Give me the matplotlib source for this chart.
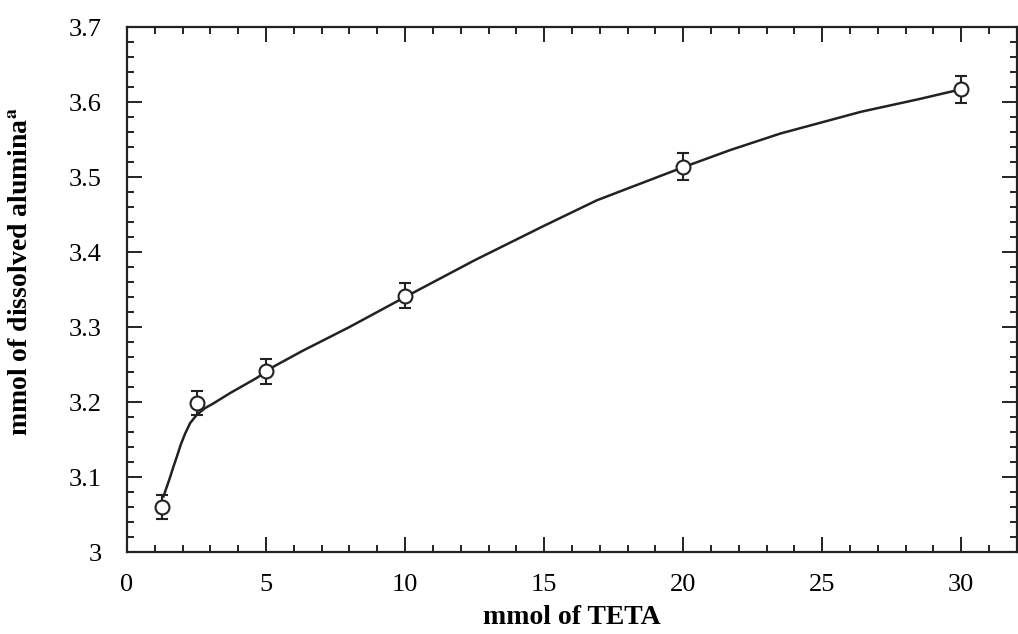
import numpy as np
import matplotlib
matplotlib.use("Agg")
import matplotlib.pyplot as plt
from matplotlib.ticker import MultipleLocator

plt.rcParams["font.family"] = ["Liberation Serif", "DejaVu Serif"]
plt.rcParams["mathtext.fontset"] = "stix"

# measured points
teta = [1.25, 2.5, 5, 10, 20, 30]
alumina = [3.060, 3.199, 3.241, 3.342, 3.514, 3.617]
err = [0.016, 0.016, 0.017, 0.017, 0.018, 0.018]

# smooth curve
curve_x = [1.31, 1.43, 1.55, 1.67, 1.79, 1.93, 2.09, 2.27, 2.51, 2.81, 3.10, 3.71, 4.66,
           5.26, 6.3, 8.0, 10.0, 12.5, 15.0, 16.9, 20.0, 21.7, 23.5, 26.4, 28.5, 30.0]
curve_y = [3.074, 3.087, 3.100, 3.114, 3.127, 3.143, 3.158, 3.172, 3.183, 3.192, 3.198,
           3.212, 3.232, 3.247, 3.268, 3.300, 3.340, 3.389, 3.435, 3.469, 3.513, 3.536,
           3.558, 3.587, 3.604, 3.617]

fig = plt.figure(figsize=(10.18, 6.34), dpi=100)
ax = fig.add_axes([0.1248, 0.1293, 0.874, 0.8281])

ax.plot(curve_x, curve_y, color="#222222", lw=1.8, zorder=2)
ax.errorbar(teta, alumina, yerr=err, fmt="o", ms=10, mfc="white", mec="#222222",
            mew=1.5, ecolor="#222222", elinewidth=1.5, capsize=4, capthick=1.5, zorder=3)

ax.set_xlim(0, 32)
ax.set_ylim(3.0, 3.7)
ax.xaxis.set_major_locator(MultipleLocator(5))
ax.xaxis.set_minor_locator(MultipleLocator(1))
ax.yaxis.set_minor_locator(MultipleLocator(0.02))
ax.set_yticks([3.0, 3.1, 3.2, 3.3, 3.4, 3.5, 3.6, 3.7])
ax.set_yticklabels(["3", "3.1", "3.2", "3.3", "3.4", "3.5", "3.6", "3.7"])

ax.tick_params(which="both", direction="in", top=True, right=True, width=1.4, color="#222222")
ax.tick_params(which="major", length=11, labelsize=19)
ax.tick_params(which="minor", length=5)
ax.tick_params(axis="y", pad=18)
ax.tick_params(axis="x", pad=16)
for s in ax.spines.values():
    s.set_linewidth(1.6)
    s.set_color("#222222")

ax.set_xlabel("mmol of TETA", fontsize=20, fontweight="bold")
ax.set_ylabel("mmol of dissolved alumina$^{\\mathbf{a}}$", fontsize=20, fontweight="bold")
ax.yaxis.set_label_coords(-0.106, 0.535)
ax.xaxis.set_label_coords(0.5, -0.1)

fig.savefig("out.png", dpi=100)
